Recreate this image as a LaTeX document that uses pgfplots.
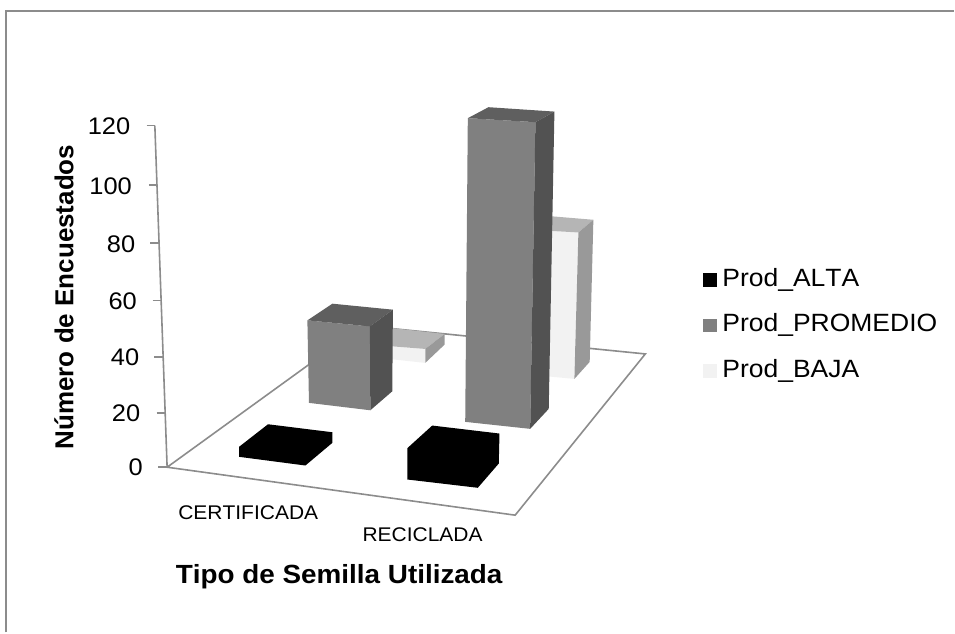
\documentclass[border=0pt]{standalone}
\usepackage{pgfplots}
\pgfplotsset{compat=1.18}
\usepackage{fontspec}
\setmainfont[Kerning=Off]{Liberation Sans}

\definecolor{promF}{HTML}{808080}
\definecolor{promT}{HTML}{5F5F5F}
\definecolor{promS}{HTML}{525252}
\definecolor{bajaF}{HTML}{F2F2F2}
\definecolor{bajaT}{HTML}{B5B5B5}
\definecolor{bajaS}{HTML}{999999}
\definecolor{axisgray}{HTML}{8C8C8C}

% one filled face of a 3D bar, in picture coordinates
\newcommand{\face}[2]{\addplot[fill=#1,draw=none,forget plot] coordinates {#2} -- cycle;}
\newcommand{\edge}[1]{\addplot[color=axisgray,line width=1.6pt,forget plot] coordinates {#1};}
\newcommand{\txt}[2]{\fontsize{#1}{#1}\selectfont\scalebox{1.06}[1]{#2}}

\begin{document}
\begin{tikzpicture}
\begin{axis}[
    scale only axis,
    width=955pt,
    height=633pt,
    xmin=0, xmax=955,
    ymin=0, ymax=633,
    y dir=reverse,
    hide axis,
    clip=false
]
% keep the whole axis area in the page
\path (axis cs:0,0) rectangle (axis cs:955,633);
% chart frame
\addplot[color=axisgray,line width=2pt,forget plot] coordinates {(6.5,633) (6.5,10.7) (955,10.7)};

% floor
\edge{(363,326) (646,354.3) (515.7,515.7) (167.3,467.7) (363,326)}
% vertical axis and ticks
\edge{(155,125.7) (167.3,467.7)}
\edge{(146.7,125.7) (155,125.7)}
\edge{(149,185) (157.2,185)}
\edge{(150.5,243.3) (159.2,243.3)}
\edge{(152.7,300.7) (161.2,300.7)}
\edge{(154.3,357.3) (163.2,357.3)}
\edge{(156.7,413.3) (165.2,413.3)}
\edge{(158.3,467.7) (167.3,467.7)}

% Prod_BAJA
\face{bajaF}{(380,345.7) (425.7,349.3) (425.7,363.3) (380,358.3)}
\face{bajaT}{(380,327) (445,334.3) (425.7,349.3) (380,345.7)}
\face{bajaS}{(425.7,349.3) (445,334.3) (445,345) (425.7,363.3)}
\face{bajaF}{(540,230.5) (579,232.7) (575,379.3) (540,376)}
\face{bajaT}{(540,215.5) (594,220) (579,232.7) (540,230.5)}
\face{bajaS}{(579,232.7) (594,220) (590.3,362.3) (575,379.3)}

% Prod_PROMEDIO
\face{promF}{(307.7,320.7) (370.3,326.7) (370.7,410.7) (309.3,403.3)}
\face{promT}{(307.7,320.7) (332.7,304) (393.3,310) (370.3,326.7)}
\face{promS}{(370.3,326.7) (393.3,310) (392.7,391.7) (370.7,410.7)}
\face{promF}{(468.3,118.3) (536,122.3) (530.7,429.3) (465.7,422.3)}
\face{promT}{(468.3,118.3) (489,107.3) (555,111.7) (536,122.3)}
\face{promS}{(536,122.3) (555,111.7) (549.3,409.3) (530.7,429.3)}

% Prod_ALTA
\face{black}{(239.3,447.3) (268.3,424.7) (332.7,432.7) (332.7,443.3) (305.7,466) (239.3,457.3)}
\face{black}{(407.7,448.7) (432.7,426) (500,434) (499.3,464) (478.3,488.3) (407.7,480)}

% tick labels
\node[anchor=east,inner sep=0pt] at (axis cs:130.5,126) {\txt{24}{120}};
\node[anchor=east,inner sep=0pt] at (axis cs:132.2,186.7) {\txt{24}{100}};
\node[anchor=east,inner sep=0pt] at (axis cs:135.5,244) {\txt{24}{80}};
\node[anchor=east,inner sep=0pt] at (axis cs:137.2,301.7) {\txt{24}{60}};
\node[anchor=east,inner sep=0pt] at (axis cs:139.5,358) {\txt{24}{40}};
\node[anchor=east,inner sep=0pt] at (axis cs:140.5,414) {\txt{24}{20}};
\node[anchor=east,inner sep=0pt] at (axis cs:143.2,468) {\txt{24}{0}};

% axis titles and categories
\node[rotate=90,inner sep=0pt] at (axis cs:64,297.3) {\fontsize{26}{26}\selectfont\bfseries Número de Encuestados};
\node[inner sep=0pt] at (axis cs:248.5,513.7) {\txt{19.8}{CERTIFICADA}};
\node[inner sep=0pt] at (axis cs:423,535.5) {\txt{19.8}{RECICLADA}};
\node[inner sep=0pt] at (axis cs:339.5,577) {\bfseries\txt{26.3}{Tipo de Semilla Utilizada}};

% legend
\face{black}{(704,273) (717.7,273) (717.7,287) (704,287)}
\face{promF}{(704,319) (717.7,319) (717.7,332.7) (704,332.7)}
\face{bajaF}{(704,364) (717.7,364) (717.7,378) (704,378)}
\node[anchor=west,inner sep=0pt] at (axis cs:723,280) {\txt{25}{Prod\_ALTA}};
\node[anchor=west,inner sep=0pt] at (axis cs:723,325.5) {\txt{25}{Prod\_PROMEDIO}};
\node[anchor=west,inner sep=0pt] at (axis cs:723,371) {\txt{25}{Prod\_BAJA}};
\end{axis}
\end{tikzpicture}
\end{document}
